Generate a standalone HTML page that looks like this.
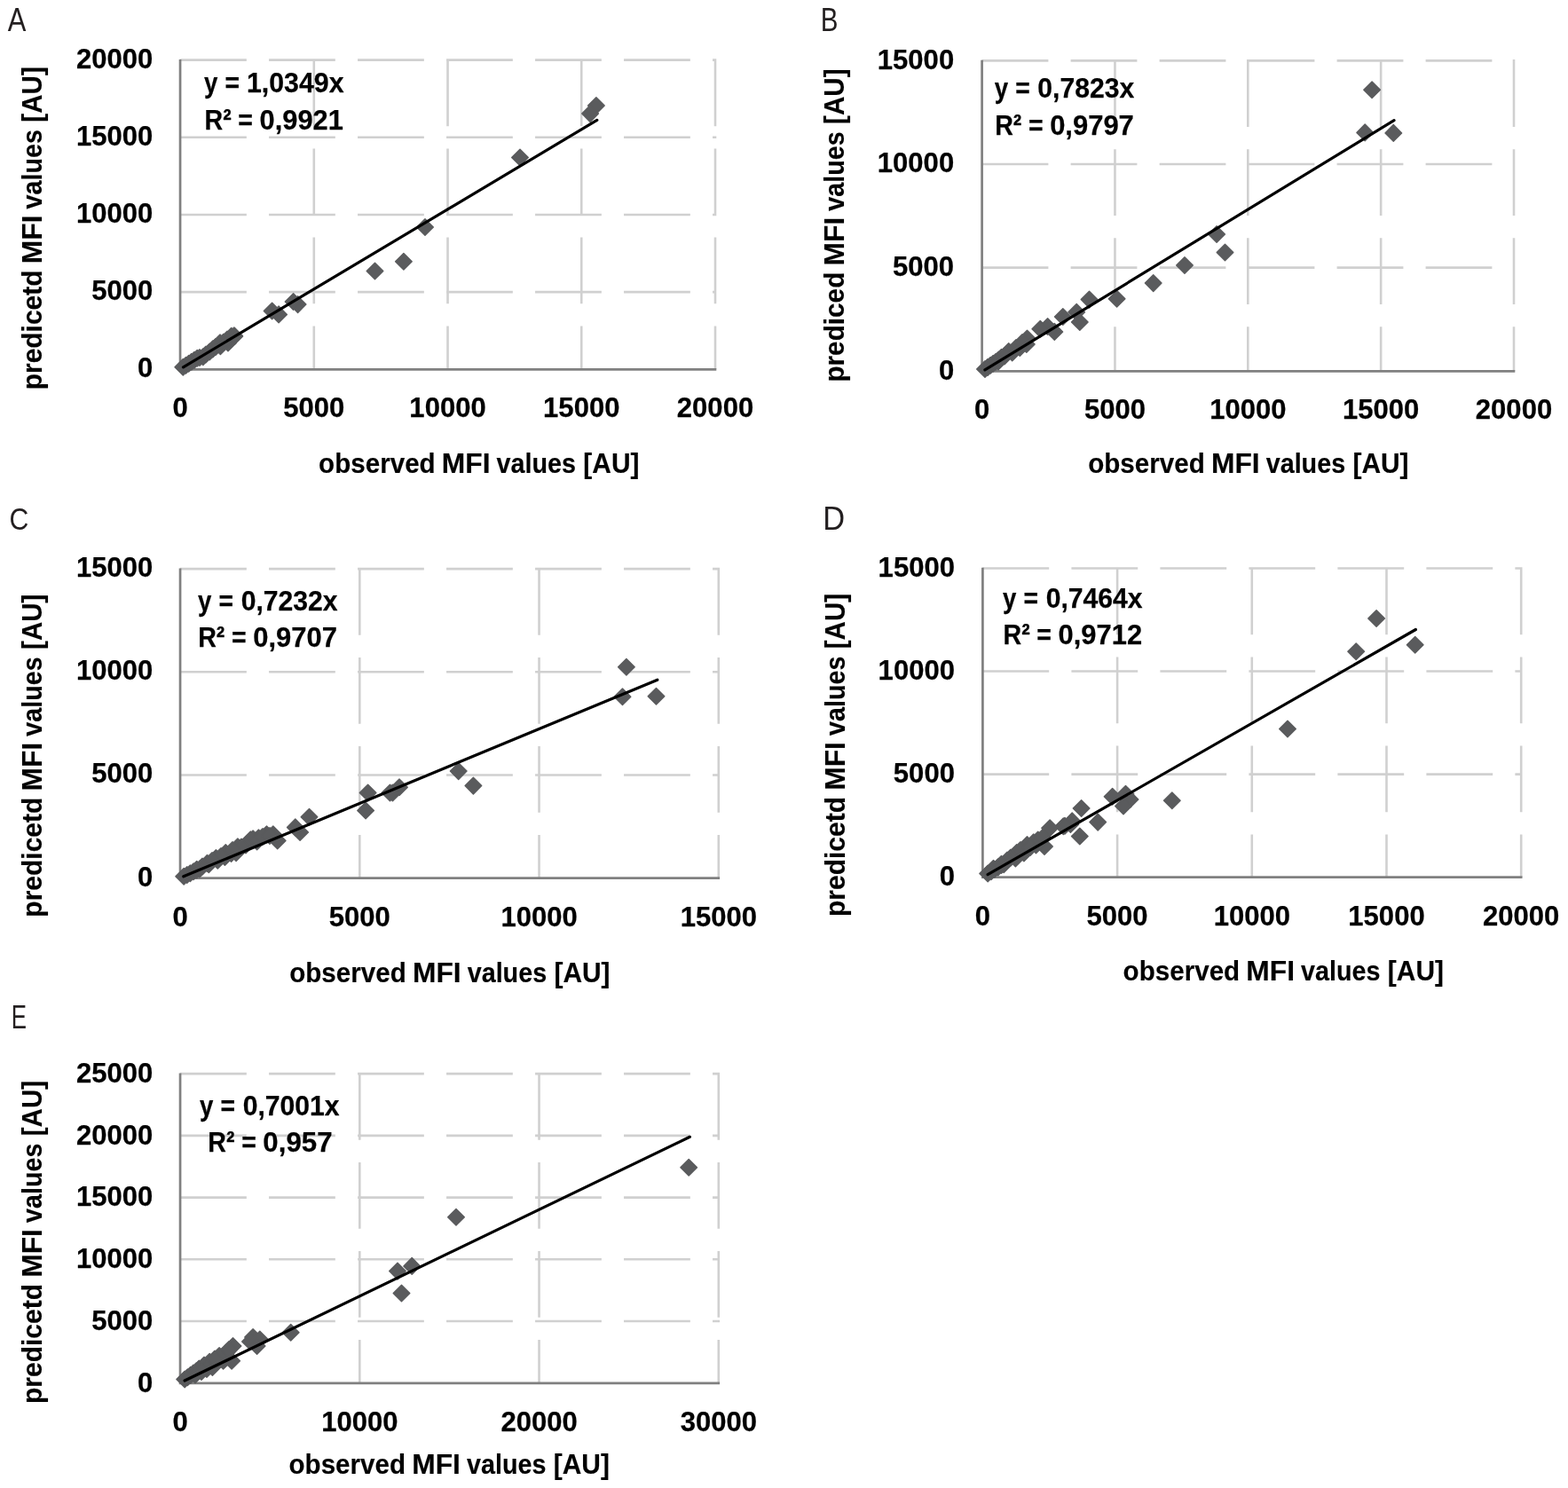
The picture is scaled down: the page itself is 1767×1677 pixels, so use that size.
<!DOCTYPE html>
<html lang="en"><head><meta charset="utf-8"><title>Observed vs predicted MFI values</title>
<style>html,body{margin:0;padding:0;background:#fff;overflow:hidden}svg{display:block}text{white-space:pre}</style></head>
<body>
<svg width="1767" height="1677" viewBox="0 0 1767 1677" font-family="'Liberation Sans', sans-serif">
<rect width="1767" height="1677" fill="#fff"/>
<g id="panel-A">
<path d="M203.05 329.12H277.85M303.05 329.12H377.85M403.05 329.12H477.85M503.05 329.12H577.85M603.05 329.12H677.85M703.05 329.12H777.85M803.05 329.12H807.30M203.05 241.95H277.85M303.05 241.95H377.85M403.05 241.95H477.85M503.05 241.95H577.85M603.05 241.95H677.85M703.05 241.95H777.85M803.05 241.95H807.30M203.05 154.77H277.85M303.05 154.77H377.85M403.05 154.77H477.85M503.05 154.77H577.85M603.05 154.77H677.85M703.05 154.77H777.85M803.05 154.77H807.30M203.05 67.60H277.85M303.05 67.60H377.85M403.05 67.60H477.85M503.05 67.60H577.85M603.05 67.60H677.85M703.05 67.60H777.85M803.05 67.60H807.30M353.79 66.30V142.30M353.79 167.50V242.30M353.79 267.50V342.30M353.79 367.50V416.30M504.53 66.30V142.30M504.53 167.50V242.30M504.53 267.50V342.30M504.53 367.50V416.30M655.26 66.30V142.30M655.26 167.50V242.30M655.26 267.50V342.30M655.26 367.50V416.30M806.00 66.30V142.30M806.00 167.50V242.30M806.00 267.50V342.30M806.00 367.50V416.30" stroke="#d0d0d0" stroke-width="2.6" fill="none"/>
<path d="M203.05 66.90V417.65M201.70 416.30H807.30" stroke="#808080" stroke-width="2.7" fill="none"/>
<g fill="#5a5b5d" stroke="#5a5b5d" stroke-width="1.4" stroke-linejoin="round">
<path d="M671.9 109.7L681.2 119.0L671.9 128.3L662.6 119.0Z"/>
<path d="M665.1 118.8L674.4 128.1L665.1 137.4L655.8 128.1Z"/>
<path d="M586.0 168.2L595.3 177.5L586.0 186.8L576.7 177.5Z"/>
<path d="M479.0 246.7L488.3 256.0L479.0 265.3L469.7 256.0Z"/>
<path d="M454.9 285.5L464.2 294.8L454.9 304.1L445.6 294.8Z"/>
<path d="M422.5 296.2L431.8 305.5L422.5 314.8L413.2 305.5Z"/>
<path d="M335.6 333.8L344.9 343.1L335.6 352.4L326.3 343.1Z"/>
<path d="M330.6 330.7L339.9 340.0L330.6 349.3L321.3 340.0Z"/>
<path d="M314.1 345.1L323.4 354.4L314.1 363.7L304.8 354.4Z"/>
<path d="M306.6 341.2L315.9 350.5L306.6 359.8L297.3 350.5Z"/>
<path d="M206.3 404.4L215.6 413.7L206.3 423.0L197.0 413.7Z"/>
<path d="M209.5 402.4L218.8 411.7L209.5 421.0L200.2 411.7Z"/>
<path d="M212.7 400.4L222.0 409.7L212.7 419.0L203.4 409.7Z"/>
<path d="M215.8 398.5L225.1 407.8L215.8 417.1L206.5 407.8Z"/>
<path d="M219.0 396.5L228.3 405.8L219.0 415.1L209.7 405.8Z"/>
<path d="M222.2 394.5L231.5 403.8L222.2 413.1L212.9 403.8Z"/>
<path d="M225.0 393.7L234.3 403.0L225.0 412.3L215.7 403.0Z"/>
<path d="M228.8 392.9L238.1 402.2L228.8 411.5L219.5 402.2Z"/>
<path d="M232.0 390.2L241.3 399.5L232.0 408.8L222.7 399.5Z"/>
<path d="M236.2 387.2L245.5 396.5L236.2 405.8L226.9 396.5Z"/>
<path d="M239.8 384.1L249.1 393.4L239.8 402.7L230.5 393.4Z"/>
<path d="M243.0 381.7L252.3 391.0L243.0 400.3L233.7 391.0Z"/>
<path d="M248.0 376.9L257.3 386.2L248.0 395.5L238.7 386.2Z"/>
<path d="M248.4 380.9L257.7 390.2L248.4 399.5L239.1 390.2Z"/>
<path d="M252.0 376.2L261.3 385.5L252.0 394.8L242.7 385.5Z"/>
<path d="M257.0 377.2L266.3 386.5L257.0 395.8L247.7 386.5Z"/>
<path d="M256.0 373.2L265.3 382.5L256.0 391.8L246.7 382.5Z"/>
<path d="M260.7 369.6L270.0 378.9L260.7 388.2L251.4 378.9Z"/>
<path d="M264.3 369.6L273.6 378.9L264.3 388.2L255.0 378.9Z"/>
<path d="M263.8 369.0L273.1 378.3L263.8 387.6L254.5 378.3Z"/>
</g>
<path d="M206.50 413.80L672.80 135.40" stroke="#000" stroke-width="3.2" stroke-linecap="round" fill="none"/>
<text y="425.20" font-size="32.10" font-weight="700" fill="#000" stroke="#000" stroke-width="0.25" stroke-linejoin="round"><tspan x="155.01" textLength="17.27" lengthAdjust="spacingAndGlyphs">0</tspan></text>
<text y="338.02" font-size="32.10" font-weight="700" fill="#000" stroke="#000" stroke-width="0.25" stroke-linejoin="round"><tspan x="103.16" textLength="69.07" lengthAdjust="spacingAndGlyphs">5000</tspan></text>
<text y="250.85" font-size="32.10" font-weight="700" fill="#000" stroke="#000" stroke-width="0.25" stroke-linejoin="round"><tspan x="85.92" textLength="86.34" lengthAdjust="spacingAndGlyphs">10000</tspan></text>
<text y="163.67" font-size="32.10" font-weight="700" fill="#000" stroke="#000" stroke-width="0.25" stroke-linejoin="round"><tspan x="85.92" textLength="86.34" lengthAdjust="spacingAndGlyphs">15000</tspan></text>
<text y="76.50" font-size="32.10" font-weight="700" fill="#000" stroke="#000" stroke-width="0.25" stroke-linejoin="round"><tspan x="85.92" textLength="86.34" lengthAdjust="spacingAndGlyphs">20000</tspan></text>
<text y="469.70" font-size="32.10" font-weight="700" fill="#000" stroke="#000" stroke-width="0.25" stroke-linejoin="round"><tspan x="194.42" textLength="17.27" lengthAdjust="spacingAndGlyphs">0</tspan></text>
<text y="469.70" font-size="32.10" font-weight="700" fill="#000" stroke="#000" stroke-width="0.25" stroke-linejoin="round"><tspan x="319.26" textLength="69.07" lengthAdjust="spacingAndGlyphs">5000</tspan></text>
<text y="469.70" font-size="32.10" font-weight="700" fill="#000" stroke="#000" stroke-width="0.25" stroke-linejoin="round"><tspan x="461.37" textLength="86.34" lengthAdjust="spacingAndGlyphs">10000</tspan></text>
<text y="469.70" font-size="32.10" font-weight="700" fill="#000" stroke="#000" stroke-width="0.25" stroke-linejoin="round"><tspan x="612.10" textLength="86.34" lengthAdjust="spacingAndGlyphs">15000</tspan></text>
<text y="469.70" font-size="32.10" font-weight="700" fill="#000" stroke="#000" stroke-width="0.25" stroke-linejoin="round"><tspan x="762.84" textLength="86.34" lengthAdjust="spacingAndGlyphs">20000</tspan></text>
<text y="533.00" font-size="31.00" font-weight="700" fill="#000" stroke="#000" stroke-width="0.15" stroke-linejoin="round"><tspan x="359.12" textLength="131.55" lengthAdjust="spacingAndGlyphs">observed</tspan> <tspan x="497.84" textLength="54.68" lengthAdjust="spacingAndGlyphs">MFI</tspan> <tspan x="559.56" textLength="89.49" lengthAdjust="spacingAndGlyphs">values</tspan> <tspan x="657.36" textLength="63.10" lengthAdjust="spacingAndGlyphs">[AU]</tspan></text>
<text transform="translate(47.30 437.40) rotate(-90)" font-size="31.00" font-weight="700" fill="#000" stroke="#000" stroke-width="0.15" stroke-linejoin="round"><tspan x="-1.95" textLength="134.93" lengthAdjust="spacingAndGlyphs">predicetd</tspan> <tspan x="140.24" textLength="54.68" lengthAdjust="spacingAndGlyphs">MFI</tspan> <tspan x="201.96" textLength="89.49" lengthAdjust="spacingAndGlyphs">values</tspan> <tspan x="299.77" textLength="62.36" lengthAdjust="spacingAndGlyphs">[AU]</tspan></text>
<text y="104.20" font-size="32.10" font-weight="700" fill="#000" stroke="#000" stroke-width="0.25" stroke-linejoin="round"><tspan x="230.12" textLength="15.35" lengthAdjust="spacingAndGlyphs">y</tspan> <tspan x="253.57" textLength="16.54" lengthAdjust="spacingAndGlyphs">=</tspan> <tspan x="277.93" textLength="109.67" lengthAdjust="spacingAndGlyphs">1,0349x</tspan></text>
<text y="146.40" font-size="32.10" font-weight="700" fill="#000" stroke="#000" stroke-width="0.25" stroke-linejoin="round"><tspan x="230.54" textLength="30.13" lengthAdjust="spacingAndGlyphs">R²</tspan> <tspan x="268.36" textLength="16.65" lengthAdjust="spacingAndGlyphs">=</tspan> <tspan x="292.57" textLength="94.21" lengthAdjust="spacingAndGlyphs">0,9921</tspan></text>
<text y="34.80" font-size="36.20" font-weight="400" fill="#231f20"><tspan x="8.85" textLength="20.62" lengthAdjust="spacingAndGlyphs">A</tspan></text>
</g>
<g id="panel-B">
<path d="M1106.60 301.67H1181.40M1206.60 301.67H1281.40M1306.60 301.67H1381.40M1406.60 301.67H1481.40M1506.60 301.67H1581.40M1606.60 301.67H1681.40M1706.60 301.67H1707.30M1106.60 185.03H1181.40M1206.60 185.03H1281.40M1306.60 185.03H1381.40M1406.60 185.03H1481.40M1506.60 185.03H1581.40M1606.60 185.03H1681.40M1706.60 185.03H1707.30M1106.60 68.40H1181.40M1206.60 68.40H1281.40M1306.60 68.40H1381.40M1406.60 68.40H1481.40M1506.60 68.40H1581.40M1606.60 68.40H1681.40M1706.60 68.40H1707.30M1256.45 67.10V143.10M1256.45 168.30V243.10M1256.45 268.30V343.10M1256.45 368.30V418.30M1406.30 67.10V143.10M1406.30 168.30V243.10M1406.30 268.30V343.10M1406.30 368.30V418.30M1556.15 67.10V143.10M1556.15 168.30V243.10M1556.15 268.30V343.10M1556.15 368.30V418.30M1706.00 67.10V143.10M1706.00 168.30V243.10M1706.00 268.30V343.10M1706.00 368.30V418.30" stroke="#d0d0d0" stroke-width="2.6" fill="none"/>
<path d="M1106.60 67.70V419.65M1105.25 418.30H1707.30" stroke="#808080" stroke-width="2.7" fill="none"/>
<g fill="#5a5b5d" stroke="#5a5b5d" stroke-width="1.4" stroke-linejoin="round">
<path d="M1546.1 92.0L1555.4 101.3L1546.1 110.6L1536.8 101.3Z"/>
<path d="M1538.2 140.1L1547.5 149.4L1538.2 158.7L1528.9 149.4Z"/>
<path d="M1570.3 140.6L1579.6 149.9L1570.3 159.2L1561.0 149.9Z"/>
<path d="M1371.1 254.7L1380.4 264.0L1371.1 273.3L1361.8 264.0Z"/>
<path d="M1380.5 275.2L1389.8 284.5L1380.5 293.8L1371.2 284.5Z"/>
<path d="M1335.0 289.7L1344.3 299.0L1335.0 308.3L1325.7 299.0Z"/>
<path d="M1299.7 309.8L1309.0 319.1L1299.7 328.4L1290.4 319.1Z"/>
<path d="M1258.6 327.5L1267.9 336.8L1258.6 346.1L1249.3 336.8Z"/>
<path d="M1227.5 328.3L1236.8 337.6L1227.5 346.9L1218.2 337.6Z"/>
<path d="M1213.2 342.4L1222.5 351.7L1213.2 361.0L1203.9 351.7Z"/>
<path d="M1216.8 353.7L1226.1 363.0L1216.8 372.3L1207.5 363.0Z"/>
<path d="M1197.8 347.7L1207.1 357.0L1197.8 366.3L1188.5 357.0Z"/>
<path d="M1180.6 358.7L1189.9 368.0L1180.6 377.3L1171.3 368.0Z"/>
<path d="M1188.3 364.6L1197.6 373.9L1188.3 383.2L1179.0 373.9Z"/>
<path d="M1172.3 361.4L1181.6 370.7L1172.3 380.0L1163.0 370.7Z"/>
<path d="M1157.5 372.3L1166.8 381.6L1157.5 390.9L1148.2 381.6Z"/>
<path d="M1156.8 378.6L1166.1 387.9L1156.8 397.2L1147.5 387.9Z"/>
<path d="M1149.3 382.7L1158.6 392.0L1149.3 401.3L1140.0 392.0Z"/>
<path d="M1140.7 388.1L1150.0 397.4L1140.7 406.7L1131.4 397.4Z"/>
<path d="M1136.7 386.8L1146.0 396.1L1136.7 405.4L1127.4 396.1Z"/>
<path d="M1128.5 393.6L1137.8 402.9L1128.5 412.2L1119.2 402.9Z"/>
<path d="M1145.0 382.7L1154.3 392.0L1145.0 401.3L1135.7 392.0Z"/>
<path d="M1152.0 376.7L1161.3 386.0L1152.0 395.3L1142.7 386.0Z"/>
<path d="M1110.0 406.7L1119.3 416.0L1110.0 425.3L1100.7 416.0Z"/>
<path d="M1113.1 404.6L1122.4 413.9L1113.1 423.2L1103.8 413.9Z"/>
<path d="M1116.2 402.5L1125.5 411.8L1116.2 421.1L1106.9 411.8Z"/>
<path d="M1119.2 400.4L1128.5 409.8L1119.2 419.1L1110.0 409.8Z"/>
<path d="M1122.3 398.4L1131.6 407.7L1122.3 417.0L1113.0 407.7Z"/>
<path d="M1125.4 396.3L1134.7 405.6L1125.4 414.9L1116.1 405.6Z"/>
<path d="M1128.5 394.2L1137.8 403.5L1128.5 412.8L1119.2 403.5Z"/>
<path d="M1132.0 392.2L1141.3 401.5L1132.0 410.8L1122.7 401.5Z"/>
<path d="M1125.0 398.2L1134.3 407.5L1125.0 416.8L1115.7 407.5Z"/>
</g>
<path d="M1109.90 416.90L1571.00 135.60" stroke="#000" stroke-width="3.2" stroke-linecap="round" fill="none"/>
<text y="427.70" font-size="32.10" font-weight="700" fill="#000" stroke="#000" stroke-width="0.25" stroke-linejoin="round"><tspan x="1057.91" textLength="17.27" lengthAdjust="spacingAndGlyphs">0</tspan></text>
<text y="311.07" font-size="32.10" font-weight="700" fill="#000" stroke="#000" stroke-width="0.25" stroke-linejoin="round"><tspan x="1006.06" textLength="69.07" lengthAdjust="spacingAndGlyphs">5000</tspan></text>
<text y="194.43" font-size="32.10" font-weight="700" fill="#000" stroke="#000" stroke-width="0.25" stroke-linejoin="round"><tspan x="988.82" textLength="86.34" lengthAdjust="spacingAndGlyphs">10000</tspan></text>
<text y="77.80" font-size="32.10" font-weight="700" fill="#000" stroke="#000" stroke-width="0.25" stroke-linejoin="round"><tspan x="988.82" textLength="86.34" lengthAdjust="spacingAndGlyphs">15000</tspan></text>
<text y="471.80" font-size="32.10" font-weight="700" fill="#000" stroke="#000" stroke-width="0.25" stroke-linejoin="round"><tspan x="1097.97" textLength="17.27" lengthAdjust="spacingAndGlyphs">0</tspan></text>
<text y="471.80" font-size="32.10" font-weight="700" fill="#000" stroke="#000" stroke-width="0.25" stroke-linejoin="round"><tspan x="1221.92" textLength="69.07" lengthAdjust="spacingAndGlyphs">5000</tspan></text>
<text y="471.80" font-size="32.10" font-weight="700" fill="#000" stroke="#000" stroke-width="0.25" stroke-linejoin="round"><tspan x="1363.14" textLength="86.34" lengthAdjust="spacingAndGlyphs">10000</tspan></text>
<text y="471.80" font-size="32.10" font-weight="700" fill="#000" stroke="#000" stroke-width="0.25" stroke-linejoin="round"><tspan x="1512.99" textLength="86.34" lengthAdjust="spacingAndGlyphs">15000</tspan></text>
<text y="471.80" font-size="32.10" font-weight="700" fill="#000" stroke="#000" stroke-width="0.25" stroke-linejoin="round"><tspan x="1662.84" textLength="86.34" lengthAdjust="spacingAndGlyphs">20000</tspan></text>
<text y="533.20" font-size="31.00" font-weight="700" fill="#000" stroke="#000" stroke-width="0.15" stroke-linejoin="round"><tspan x="1226.22" textLength="131.55" lengthAdjust="spacingAndGlyphs">observed</tspan> <tspan x="1364.94" textLength="54.68" lengthAdjust="spacingAndGlyphs">MFI</tspan> <tspan x="1426.66" textLength="89.49" lengthAdjust="spacingAndGlyphs">values</tspan> <tspan x="1524.46" textLength="63.10" lengthAdjust="spacingAndGlyphs">[AU]</tspan></text>
<text transform="translate(951.00 428.70) rotate(-90)" font-size="31.00" font-weight="700" fill="#000" stroke="#000" stroke-width="0.15" stroke-linejoin="round"><tspan x="-1.93" textLength="123.95" lengthAdjust="spacingAndGlyphs">prediced</tspan> <tspan x="129.24" textLength="54.68" lengthAdjust="spacingAndGlyphs">MFI</tspan> <tspan x="190.96" textLength="89.49" lengthAdjust="spacingAndGlyphs">values</tspan> <tspan x="288.77" textLength="62.57" lengthAdjust="spacingAndGlyphs">[AU]</tspan></text>
<text y="110.40" font-size="32.10" font-weight="700" fill="#000" stroke="#000" stroke-width="0.25" stroke-linejoin="round"><tspan x="1120.72" textLength="15.35" lengthAdjust="spacingAndGlyphs">y</tspan> <tspan x="1144.17" textLength="16.54" lengthAdjust="spacingAndGlyphs">=</tspan> <tspan x="1169.29" textLength="108.90" lengthAdjust="spacingAndGlyphs">0,7823x</tspan></text>
<text y="152.10" font-size="32.10" font-weight="700" fill="#000" stroke="#000" stroke-width="0.25" stroke-linejoin="round"><tspan x="1121.14" textLength="30.13" lengthAdjust="spacingAndGlyphs">R²</tspan> <tspan x="1158.96" textLength="16.65" lengthAdjust="spacingAndGlyphs">=</tspan> <tspan x="1183.16" textLength="94.69" lengthAdjust="spacingAndGlyphs">0,9797</tspan></text>
<text y="35.00" font-size="36.23" font-weight="400" fill="#231f20"><tspan x="924.64" textLength="19.70" lengthAdjust="spacingAndGlyphs">B</tspan></text>
</g>
<g id="panel-C">
<path d="M203.05 873.43H277.85M303.05 873.43H377.85M403.05 873.43H477.85M503.05 873.43H577.85M603.05 873.43H677.85M703.05 873.43H777.85M803.05 873.43H811.10M203.05 757.27H277.85M303.05 757.27H377.85M403.05 757.27H477.85M503.05 757.27H577.85M603.05 757.27H677.85M703.05 757.27H777.85M803.05 757.27H811.10M203.05 641.10H277.85M303.05 641.10H377.85M403.05 641.10H477.85M503.05 641.10H577.85M603.05 641.10H677.85M703.05 641.10H777.85M803.05 641.10H811.10M405.30 639.80V715.80M405.30 741.00V815.80M405.30 841.00V915.80M405.30 941.00V989.60M607.55 639.80V715.80M607.55 741.00V815.80M607.55 841.00V915.80M607.55 941.00V989.60M809.80 639.80V715.80M809.80 741.00V815.80M809.80 841.00V915.80M809.80 941.00V989.60" stroke="#d0d0d0" stroke-width="2.6" fill="none"/>
<path d="M203.05 640.40V990.95M201.70 989.60H811.10" stroke="#808080" stroke-width="2.7" fill="none"/>
<g fill="#5a5b5d" stroke="#5a5b5d" stroke-width="1.4" stroke-linejoin="round">
<path d="M705.9 742.4L715.2 751.7L705.9 761.0L696.6 751.7Z"/>
<path d="M701.5 776.0L710.8 785.3L701.5 794.6L692.2 785.3Z"/>
<path d="M739.5 775.5L748.8 784.8L739.5 794.1L730.2 784.8Z"/>
<path d="M516.7 859.8L526.0 869.1L516.7 878.4L507.4 869.1Z"/>
<path d="M533.4 876.3L542.7 885.6L533.4 894.9L524.1 885.6Z"/>
<path d="M450.0 878.0L459.3 887.3L450.0 896.6L440.7 887.3Z"/>
<path d="M442.5 884.2L451.8 893.5L442.5 902.8L433.2 893.5Z"/>
<path d="M439.5 884.2L448.8 893.5L439.5 902.8L430.2 893.5Z"/>
<path d="M414.6 884.2L423.9 893.5L414.6 902.8L405.3 893.5Z"/>
<path d="M412.1 904.2L421.4 913.5L412.1 922.8L402.8 913.5Z"/>
<path d="M348.5 911.5L357.8 920.8L348.5 930.1L339.2 920.8Z"/>
<path d="M338.1 928.7L347.4 938.0L338.1 947.3L328.8 938.0Z"/>
<path d="M332.8 923.1L342.1 932.4L332.8 941.7L323.5 932.4Z"/>
<path d="M312.7 938.2L322.0 947.5L312.7 956.8L303.4 947.5Z"/>
<path d="M307.8 931.0L317.1 940.3L307.8 949.6L298.5 940.3Z"/>
<path d="M300.5 931.0L309.8 940.3L300.5 949.6L291.2 940.3Z"/>
<path d="M291.4 935.1L300.7 944.4L291.4 953.7L282.1 944.4Z"/>
<path d="M285.1 936.0L294.4 945.3L285.1 954.6L275.8 945.3Z"/>
<path d="M282.4 936.9L291.7 946.2L282.4 955.5L273.1 946.2Z"/>
<path d="M289.6 939.1L298.9 948.4L289.6 957.7L280.3 948.4Z"/>
<path d="M277.0 943.2L286.3 952.5L277.0 961.8L267.7 952.5Z"/>
<path d="M296.0 933.7L305.3 943.0L296.0 952.3L286.7 943.0Z"/>
<path d="M304.0 932.7L313.3 942.0L304.0 951.3L294.7 942.0Z"/>
<path d="M267.9 945.0L277.2 954.3L267.9 963.6L258.6 954.3Z"/>
<path d="M266.1 951.8L275.4 961.1L266.1 970.4L256.8 961.1Z"/>
<path d="M260.6 952.7L269.9 962.0L260.6 971.3L251.3 962.0Z"/>
<path d="M254.3 951.8L263.6 961.1L254.3 970.4L245.0 961.1Z"/>
<path d="M253.4 956.7L262.7 966.0L253.4 975.3L244.1 966.0Z"/>
<path d="M245.3 960.4L254.6 969.7L245.3 979.0L236.0 969.7Z"/>
<path d="M243.4 957.7L252.7 967.0L243.4 976.3L234.1 967.0Z"/>
<path d="M235.3 964.9L244.6 974.2L235.3 983.5L226.0 974.2Z"/>
<path d="M233.5 963.6L242.8 972.9L233.5 982.2L224.2 972.9Z"/>
<path d="M221.7 970.4L231.0 979.7L221.7 989.0L212.4 979.7Z"/>
<path d="M272.0 945.2L281.3 954.5L272.0 963.8L262.7 954.5Z"/>
<path d="M262.0 948.7L271.3 958.0L262.0 967.3L252.7 958.0Z"/>
<path d="M249.0 955.7L258.3 965.0L249.0 974.3L239.7 965.0Z"/>
<path d="M239.0 960.7L248.3 970.0L239.0 979.3L229.7 970.0Z"/>
<path d="M228.0 967.2L237.3 976.5L228.0 985.8L218.7 976.5Z"/>
<path d="M225.0 970.2L234.3 979.5L225.0 988.8L215.7 979.5Z"/>
<path d="M207.2 978.5L216.5 987.8L207.2 997.1L197.9 987.8Z"/>
<path d="M210.8 976.7L220.1 986.0L210.8 995.3L201.5 986.0Z"/>
<path d="M214.4 974.9L223.8 984.1L214.4 993.4L205.1 984.1Z"/>
<path d="M218.1 973.0L227.4 982.3L218.1 991.6L208.8 982.3Z"/>
<path d="M221.7 971.2L231.0 980.5L221.7 989.8L212.4 980.5Z"/>
</g>
<path d="M206.80 987.80L740.80 766.20" stroke="#000" stroke-width="3.2" stroke-linecap="round" fill="none"/>
<text y="998.60" font-size="32.10" font-weight="700" fill="#000" stroke="#000" stroke-width="0.25" stroke-linejoin="round"><tspan x="155.01" textLength="17.27" lengthAdjust="spacingAndGlyphs">0</tspan></text>
<text y="882.43" font-size="32.10" font-weight="700" fill="#000" stroke="#000" stroke-width="0.25" stroke-linejoin="round"><tspan x="103.16" textLength="69.07" lengthAdjust="spacingAndGlyphs">5000</tspan></text>
<text y="766.27" font-size="32.10" font-weight="700" fill="#000" stroke="#000" stroke-width="0.25" stroke-linejoin="round"><tspan x="85.92" textLength="86.34" lengthAdjust="spacingAndGlyphs">10000</tspan></text>
<text y="650.10" font-size="32.10" font-weight="700" fill="#000" stroke="#000" stroke-width="0.25" stroke-linejoin="round"><tspan x="85.92" textLength="86.34" lengthAdjust="spacingAndGlyphs">15000</tspan></text>
<text y="1043.60" font-size="32.10" font-weight="700" fill="#000" stroke="#000" stroke-width="0.25" stroke-linejoin="round"><tspan x="194.42" textLength="17.27" lengthAdjust="spacingAndGlyphs">0</tspan></text>
<text y="1043.60" font-size="32.10" font-weight="700" fill="#000" stroke="#000" stroke-width="0.25" stroke-linejoin="round"><tspan x="370.77" textLength="69.07" lengthAdjust="spacingAndGlyphs">5000</tspan></text>
<text y="1043.60" font-size="32.10" font-weight="700" fill="#000" stroke="#000" stroke-width="0.25" stroke-linejoin="round"><tspan x="564.39" textLength="86.34" lengthAdjust="spacingAndGlyphs">10000</tspan></text>
<text y="1043.60" font-size="32.10" font-weight="700" fill="#000" stroke="#000" stroke-width="0.25" stroke-linejoin="round"><tspan x="766.64" textLength="86.34" lengthAdjust="spacingAndGlyphs">15000</tspan></text>
<text y="1106.90" font-size="31.00" font-weight="700" fill="#000" stroke="#000" stroke-width="0.15" stroke-linejoin="round"><tspan x="326.22" textLength="131.55" lengthAdjust="spacingAndGlyphs">observed</tspan> <tspan x="464.94" textLength="54.68" lengthAdjust="spacingAndGlyphs">MFI</tspan> <tspan x="526.66" textLength="89.49" lengthAdjust="spacingAndGlyphs">values</tspan> <tspan x="624.46" textLength="63.10" lengthAdjust="spacingAndGlyphs">[AU]</tspan></text>
<text transform="translate(47.30 1031.70) rotate(-90)" font-size="31.00" font-weight="700" fill="#000" stroke="#000" stroke-width="0.15" stroke-linejoin="round"><tspan x="-1.95" textLength="134.93" lengthAdjust="spacingAndGlyphs">predicetd</tspan> <tspan x="140.24" textLength="54.68" lengthAdjust="spacingAndGlyphs">MFI</tspan> <tspan x="201.96" textLength="89.49" lengthAdjust="spacingAndGlyphs">values</tspan> <tspan x="299.77" textLength="62.36" lengthAdjust="spacingAndGlyphs">[AU]</tspan></text>
<text y="687.90" font-size="32.10" font-weight="700" fill="#000" stroke="#000" stroke-width="0.25" stroke-linejoin="round"><tspan x="223.12" textLength="15.35" lengthAdjust="spacingAndGlyphs">y</tspan> <tspan x="246.57" textLength="16.54" lengthAdjust="spacingAndGlyphs">=</tspan> <tspan x="271.69" textLength="108.90" lengthAdjust="spacingAndGlyphs">0,7232x</tspan></text>
<text y="729.30" font-size="32.10" font-weight="700" fill="#000" stroke="#000" stroke-width="0.25" stroke-linejoin="round"><tspan x="223.24" textLength="30.13" lengthAdjust="spacingAndGlyphs">R²</tspan> <tspan x="261.06" textLength="16.65" lengthAdjust="spacingAndGlyphs">=</tspan> <tspan x="285.26" textLength="94.69" lengthAdjust="spacingAndGlyphs">0,9707</tspan></text>
<text y="596.64" font-size="35.63" font-weight="400" fill="#231f20"><tspan x="10.39" textLength="21.78" lengthAdjust="spacingAndGlyphs">C</tspan></text>
</g>
<g id="panel-D">
<path d="M1107.40 872.63H1182.20M1207.40 872.63H1282.20M1307.40 872.63H1382.20M1407.40 872.63H1482.20M1507.40 872.63H1582.20M1607.40 872.63H1682.20M1707.40 872.63H1715.50M1107.40 756.57H1182.20M1207.40 756.57H1282.20M1307.40 756.57H1382.20M1407.40 756.57H1482.20M1507.40 756.57H1582.20M1607.40 756.57H1682.20M1707.40 756.57H1715.50M1107.40 640.50H1182.20M1207.40 640.50H1282.20M1307.40 640.50H1382.20M1407.40 640.50H1482.20M1507.40 640.50H1582.20M1607.40 640.50H1682.20M1707.40 640.50H1715.50M1259.10 639.20V715.20M1259.10 740.40V815.20M1259.10 840.40V915.20M1259.10 940.40V988.70M1410.80 639.20V715.20M1410.80 740.40V815.20M1410.80 840.40V915.20M1410.80 940.40V988.70M1562.50 639.20V715.20M1562.50 740.40V815.20M1562.50 840.40V915.20M1562.50 940.40V988.70M1714.20 639.20V715.20M1714.20 740.40V815.20M1714.20 840.40V915.20M1714.20 940.40V988.70" stroke="#d0d0d0" stroke-width="2.6" fill="none"/>
<path d="M1107.40 639.80V990.05M1106.05 988.70H1715.50" stroke="#808080" stroke-width="2.7" fill="none"/>
<g fill="#5a5b5d" stroke="#5a5b5d" stroke-width="1.4" stroke-linejoin="round">
<path d="M1551.1 687.7L1560.4 697.0L1551.1 706.3L1541.8 697.0Z"/>
<path d="M1528.2 725.0L1537.5 734.3L1528.2 743.6L1518.9 734.3Z"/>
<path d="M1594.7 717.5L1604.0 726.8L1594.7 736.1L1585.4 726.8Z"/>
<path d="M1451.0 812.2L1460.3 821.5L1451.0 830.8L1441.7 821.5Z"/>
<path d="M1320.8 893.0L1330.1 902.3L1320.8 911.6L1311.5 902.3Z"/>
<path d="M1268.5 885.5L1277.8 894.8L1268.5 904.1L1259.2 894.8Z"/>
<path d="M1273.5 891.7L1282.8 901.0L1273.5 910.3L1264.2 901.0Z"/>
<path d="M1266.0 899.2L1275.3 908.5L1266.0 917.8L1256.7 908.5Z"/>
<path d="M1253.6 888.5L1262.9 897.8L1253.6 907.1L1244.3 897.8Z"/>
<path d="M1237.2 917.3L1246.5 926.6L1237.2 935.9L1227.9 926.6Z"/>
<path d="M1218.6 901.7L1227.9 911.0L1218.6 920.3L1209.3 911.0Z"/>
<path d="M1216.8 933.2L1226.1 942.5L1216.8 951.8L1207.5 942.5Z"/>
<path d="M1208.2 916.1L1217.5 925.4L1208.2 934.7L1198.9 925.4Z"/>
<path d="M1206.4 919.6L1215.7 928.9L1206.4 938.2L1197.1 928.9Z"/>
<path d="M1198.3 922.0L1207.6 931.3L1198.3 940.6L1189.0 931.3Z"/>
<path d="M1200.0 921.4L1209.3 930.7L1200.0 940.0L1190.7 930.7Z"/>
<path d="M1183.1 923.9L1192.4 933.2L1183.1 942.5L1173.8 933.2Z"/>
<path d="M1177.0 944.7L1186.3 954.0L1177.0 963.3L1167.7 954.0Z"/>
<path d="M1169.7 937.3L1179.0 946.6L1169.7 955.9L1160.4 946.6Z"/>
<path d="M1164.7 940.1L1174.0 949.4L1164.7 958.7L1155.4 949.4Z"/>
<path d="M1157.5 942.8L1166.8 952.1L1157.5 961.4L1148.2 952.1Z"/>
<path d="M1167.5 943.2L1176.8 952.5L1167.5 961.8L1158.2 952.5Z"/>
<path d="M1145.7 951.8L1155.0 961.1L1145.7 970.4L1136.4 961.1Z"/>
<path d="M1153.9 952.2L1163.2 961.5L1153.9 970.8L1144.6 961.5Z"/>
<path d="M1144.4 958.1L1153.7 967.4L1144.4 976.7L1135.1 967.4Z"/>
<path d="M1128.5 964.5L1137.8 973.8L1128.5 983.1L1119.2 973.8Z"/>
<path d="M1131.2 964.9L1140.5 974.2L1131.2 983.5L1121.9 974.2Z"/>
<path d="M1119.5 969.5L1128.8 978.8L1119.5 988.1L1110.2 978.8Z"/>
<path d="M1175.0 934.7L1184.3 944.0L1175.0 953.3L1165.7 944.0Z"/>
<path d="M1150.0 948.7L1159.3 958.0L1150.0 967.3L1140.7 958.0Z"/>
<path d="M1139.0 957.2L1148.3 966.5L1139.0 975.8L1129.7 966.5Z"/>
<path d="M1135.0 960.2L1144.3 969.5L1135.0 978.8L1125.7 969.5Z"/>
<path d="M1161.0 945.7L1170.3 955.0L1161.0 964.3L1151.7 955.0Z"/>
<path d="M1113.2 975.2L1122.5 984.5L1113.2 993.8L1103.9 984.5Z"/>
<path d="M1117.0 972.8L1126.3 982.1L1117.0 991.4L1107.7 982.1Z"/>
<path d="M1120.8 970.5L1130.1 979.8L1120.8 989.0L1111.5 979.8Z"/>
<path d="M1124.7 968.1L1134.0 977.4L1124.7 986.7L1115.4 977.4Z"/>
<path d="M1128.5 965.7L1137.8 975.0L1128.5 984.3L1119.2 975.0Z"/>
</g>
<path d="M1113.10 985.60L1595.40 709.50" stroke="#000" stroke-width="3.2" stroke-linecap="round" fill="none"/>
<text y="997.80" font-size="32.10" font-weight="700" fill="#000" stroke="#000" stroke-width="0.25" stroke-linejoin="round"><tspan x="1058.71" textLength="17.27" lengthAdjust="spacingAndGlyphs">0</tspan></text>
<text y="881.73" font-size="32.10" font-weight="700" fill="#000" stroke="#000" stroke-width="0.25" stroke-linejoin="round"><tspan x="1006.86" textLength="69.07" lengthAdjust="spacingAndGlyphs">5000</tspan></text>
<text y="765.67" font-size="32.10" font-weight="700" fill="#000" stroke="#000" stroke-width="0.25" stroke-linejoin="round"><tspan x="989.62" textLength="86.34" lengthAdjust="spacingAndGlyphs">10000</tspan></text>
<text y="649.60" font-size="32.10" font-weight="700" fill="#000" stroke="#000" stroke-width="0.25" stroke-linejoin="round"><tspan x="989.62" textLength="86.34" lengthAdjust="spacingAndGlyphs">15000</tspan></text>
<text y="1043.20" font-size="32.10" font-weight="700" fill="#000" stroke="#000" stroke-width="0.25" stroke-linejoin="round"><tspan x="1098.77" textLength="17.27" lengthAdjust="spacingAndGlyphs">0</tspan></text>
<text y="1043.20" font-size="32.10" font-weight="700" fill="#000" stroke="#000" stroke-width="0.25" stroke-linejoin="round"><tspan x="1224.57" textLength="69.07" lengthAdjust="spacingAndGlyphs">5000</tspan></text>
<text y="1043.20" font-size="32.10" font-weight="700" fill="#000" stroke="#000" stroke-width="0.25" stroke-linejoin="round"><tspan x="1367.64" textLength="86.34" lengthAdjust="spacingAndGlyphs">10000</tspan></text>
<text y="1043.20" font-size="32.10" font-weight="700" fill="#000" stroke="#000" stroke-width="0.25" stroke-linejoin="round"><tspan x="1519.34" textLength="86.34" lengthAdjust="spacingAndGlyphs">15000</tspan></text>
<text y="1043.20" font-size="32.10" font-weight="700" fill="#000" stroke="#000" stroke-width="0.25" stroke-linejoin="round"><tspan x="1671.04" textLength="86.34" lengthAdjust="spacingAndGlyphs">20000</tspan></text>
<text y="1105.20" font-size="31.00" font-weight="700" fill="#000" stroke="#000" stroke-width="0.15" stroke-linejoin="round"><tspan x="1265.62" textLength="131.55" lengthAdjust="spacingAndGlyphs">observed</tspan> <tspan x="1404.34" textLength="54.68" lengthAdjust="spacingAndGlyphs">MFI</tspan> <tspan x="1466.06" textLength="89.49" lengthAdjust="spacingAndGlyphs">values</tspan> <tspan x="1563.86" textLength="63.10" lengthAdjust="spacingAndGlyphs">[AU]</tspan></text>
<text transform="translate(951.70 1031.00) rotate(-90)" font-size="31.00" font-weight="700" fill="#000" stroke="#000" stroke-width="0.15" stroke-linejoin="round"><tspan x="-1.95" textLength="134.93" lengthAdjust="spacingAndGlyphs">predicetd</tspan> <tspan x="140.24" textLength="54.68" lengthAdjust="spacingAndGlyphs">MFI</tspan> <tspan x="201.96" textLength="89.49" lengthAdjust="spacingAndGlyphs">values</tspan> <tspan x="299.77" textLength="62.36" lengthAdjust="spacingAndGlyphs">[AU]</tspan></text>
<text y="684.50" font-size="32.10" font-weight="700" fill="#000" stroke="#000" stroke-width="0.25" stroke-linejoin="round"><tspan x="1130.12" textLength="15.35" lengthAdjust="spacingAndGlyphs">y</tspan> <tspan x="1153.57" textLength="16.54" lengthAdjust="spacingAndGlyphs">=</tspan> <tspan x="1178.69" textLength="108.90" lengthAdjust="spacingAndGlyphs">0,7464x</tspan></text>
<text y="725.80" font-size="32.10" font-weight="700" fill="#000" stroke="#000" stroke-width="0.25" stroke-linejoin="round"><tspan x="1130.54" textLength="30.13" lengthAdjust="spacingAndGlyphs">R²</tspan> <tspan x="1168.36" textLength="16.65" lengthAdjust="spacingAndGlyphs">=</tspan> <tspan x="1192.56" textLength="94.53" lengthAdjust="spacingAndGlyphs">0,9712</tspan></text>
<text y="597.00" font-size="36.38" font-weight="400" fill="#231f20"><tspan x="927.14" textLength="24.88" lengthAdjust="spacingAndGlyphs">D</tspan></text>
</g>
<g id="panel-E">
<path d="M203.05 1489.06H277.85M303.05 1489.06H377.85M403.05 1489.06H477.85M503.05 1489.06H577.85M603.05 1489.06H677.85M703.05 1489.06H777.85M803.05 1489.06H811.10M203.05 1419.32H277.85M303.05 1419.32H377.85M403.05 1419.32H477.85M503.05 1419.32H577.85M603.05 1419.32H677.85M703.05 1419.32H777.85M803.05 1419.32H811.10M203.05 1349.58H277.85M303.05 1349.58H377.85M403.05 1349.58H477.85M503.05 1349.58H577.85M603.05 1349.58H677.85M703.05 1349.58H777.85M803.05 1349.58H811.10M203.05 1279.84H277.85M303.05 1279.84H377.85M403.05 1279.84H477.85M503.05 1279.84H577.85M603.05 1279.84H677.85M703.05 1279.84H777.85M803.05 1279.84H811.10M203.05 1210.10H277.85M303.05 1210.10H377.85M403.05 1210.10H477.85M503.05 1210.10H577.85M603.05 1210.10H677.85M703.05 1210.10H777.85M803.05 1210.10H811.10M405.30 1208.80V1284.80M405.30 1310.00V1384.80M405.30 1410.00V1484.80M405.30 1510.00V1558.80M607.55 1208.80V1284.80M607.55 1310.00V1384.80M607.55 1410.00V1484.80M607.55 1510.00V1558.80M809.80 1208.80V1284.80M809.80 1310.00V1384.80M809.80 1410.00V1484.80M809.80 1510.00V1558.80" stroke="#d0d0d0" stroke-width="2.6" fill="none"/>
<path d="M203.05 1209.40V1560.15M201.70 1558.80H811.10" stroke="#808080" stroke-width="2.7" fill="none"/>
<g fill="#5a5b5d" stroke="#5a5b5d" stroke-width="1.4" stroke-linejoin="round">
<path d="M776.2 1306.4L785.5 1315.7L776.2 1325.0L766.9 1315.7Z"/>
<path d="M514.0 1362.4L523.3 1371.7L514.0 1381.0L504.7 1371.7Z"/>
<path d="M464.2 1417.6L473.5 1426.9L464.2 1436.2L454.9 1426.9Z"/>
<path d="M448.0 1423.3L457.3 1432.6L448.0 1441.9L438.7 1432.6Z"/>
<path d="M452.5 1448.2L461.8 1457.5L452.5 1466.8L443.2 1457.5Z"/>
<path d="M327.7 1492.4L337.0 1501.7L327.7 1511.0L318.4 1501.7Z"/>
<path d="M285.1 1497.8L294.4 1507.1L285.1 1516.4L275.8 1507.1Z"/>
<path d="M282.0 1502.7L291.3 1512.0L282.0 1521.3L272.7 1512.0Z"/>
<path d="M292.8 1500.3L302.1 1509.6L292.8 1518.9L283.5 1509.6Z"/>
<path d="M289.6 1507.7L298.9 1517.0L289.6 1526.3L280.3 1517.0Z"/>
<path d="M262.5 1507.8L271.8 1517.1L262.5 1526.4L253.2 1517.1Z"/>
<path d="M261.1 1524.5L270.4 1533.8L261.1 1543.1L251.8 1533.8Z"/>
<path d="M255.2 1515.0L264.5 1524.3L255.2 1533.6L245.9 1524.3Z"/>
<path d="M247.1 1518.7L256.4 1528.0L247.1 1537.3L237.8 1528.0Z"/>
<path d="M251.6 1524.5L260.9 1533.8L251.6 1543.1L242.3 1533.8Z"/>
<path d="M236.2 1525.5L245.5 1534.8L236.2 1544.1L226.9 1534.8Z"/>
<path d="M239.4 1531.7L248.7 1541.0L239.4 1550.3L230.1 1541.0Z"/>
<path d="M224.4 1533.2L233.7 1542.5L224.4 1551.8L215.1 1542.5Z"/>
<path d="M242.0 1522.2L251.3 1531.5L242.0 1540.8L232.7 1531.5Z"/>
<path d="M230.0 1529.2L239.3 1538.5L230.0 1547.8L220.7 1538.5Z"/>
<path d="M233.0 1533.7L242.3 1543.0L233.0 1552.3L223.7 1543.0Z"/>
<path d="M258.0 1511.7L267.3 1521.0L258.0 1530.3L248.7 1521.0Z"/>
<path d="M208.2 1545.2L217.5 1554.5L208.2 1563.8L198.9 1554.5Z"/>
<path d="M211.4 1542.9L220.7 1552.2L211.4 1561.5L202.1 1552.2Z"/>
<path d="M214.7 1540.6L224.0 1549.9L214.7 1559.2L205.4 1549.9Z"/>
<path d="M217.9 1538.3L227.2 1547.6L217.9 1556.9L208.6 1547.6Z"/>
<path d="M221.2 1536.0L230.5 1545.3L221.2 1554.6L211.9 1545.3Z"/>
<path d="M224.4 1533.7L233.7 1543.0L224.4 1552.3L215.1 1543.0Z"/>
<path d="M227.0 1536.7L236.3 1546.0L227.0 1555.3L217.7 1546.0Z"/>
<path d="M220.0 1540.2L229.3 1549.5L220.0 1558.8L210.7 1549.5Z"/>
</g>
<path d="M208.10 1556.00L777.40 1281.30" stroke="#000" stroke-width="3.2" stroke-linecap="round" fill="none"/>
<text y="1568.60" font-size="32.10" font-weight="700" fill="#000" stroke="#000" stroke-width="0.25" stroke-linejoin="round"><tspan x="155.01" textLength="17.27" lengthAdjust="spacingAndGlyphs">0</tspan></text>
<text y="1498.86" font-size="32.10" font-weight="700" fill="#000" stroke="#000" stroke-width="0.25" stroke-linejoin="round"><tspan x="103.16" textLength="69.07" lengthAdjust="spacingAndGlyphs">5000</tspan></text>
<text y="1429.12" font-size="32.10" font-weight="700" fill="#000" stroke="#000" stroke-width="0.25" stroke-linejoin="round"><tspan x="85.92" textLength="86.34" lengthAdjust="spacingAndGlyphs">10000</tspan></text>
<text y="1359.38" font-size="32.10" font-weight="700" fill="#000" stroke="#000" stroke-width="0.25" stroke-linejoin="round"><tspan x="85.92" textLength="86.34" lengthAdjust="spacingAndGlyphs">15000</tspan></text>
<text y="1289.64" font-size="32.10" font-weight="700" fill="#000" stroke="#000" stroke-width="0.25" stroke-linejoin="round"><tspan x="85.92" textLength="86.34" lengthAdjust="spacingAndGlyphs">20000</tspan></text>
<text y="1219.90" font-size="32.10" font-weight="700" fill="#000" stroke="#000" stroke-width="0.25" stroke-linejoin="round"><tspan x="85.92" textLength="86.34" lengthAdjust="spacingAndGlyphs">25000</tspan></text>
<text y="1613.00" font-size="32.10" font-weight="700" fill="#000" stroke="#000" stroke-width="0.25" stroke-linejoin="round"><tspan x="194.42" textLength="17.27" lengthAdjust="spacingAndGlyphs">0</tspan></text>
<text y="1613.00" font-size="32.10" font-weight="700" fill="#000" stroke="#000" stroke-width="0.25" stroke-linejoin="round"><tspan x="362.14" textLength="86.34" lengthAdjust="spacingAndGlyphs">10000</tspan></text>
<text y="1613.00" font-size="32.10" font-weight="700" fill="#000" stroke="#000" stroke-width="0.25" stroke-linejoin="round"><tspan x="564.39" textLength="86.34" lengthAdjust="spacingAndGlyphs">20000</tspan></text>
<text y="1613.00" font-size="32.10" font-weight="700" fill="#000" stroke="#000" stroke-width="0.25" stroke-linejoin="round"><tspan x="766.64" textLength="86.34" lengthAdjust="spacingAndGlyphs">30000</tspan></text>
<text y="1660.90" font-size="31.00" font-weight="700" fill="#000" stroke="#000" stroke-width="0.15" stroke-linejoin="round"><tspan x="325.52" textLength="131.55" lengthAdjust="spacingAndGlyphs">observed</tspan> <tspan x="464.24" textLength="54.68" lengthAdjust="spacingAndGlyphs">MFI</tspan> <tspan x="525.96" textLength="89.49" lengthAdjust="spacingAndGlyphs">values</tspan> <tspan x="623.76" textLength="63.10" lengthAdjust="spacingAndGlyphs">[AU]</tspan></text>
<text transform="translate(47.30 1580.00) rotate(-90)" font-size="31.00" font-weight="700" fill="#000" stroke="#000" stroke-width="0.15" stroke-linejoin="round"><tspan x="-1.95" textLength="134.93" lengthAdjust="spacingAndGlyphs">predicetd</tspan> <tspan x="140.24" textLength="54.68" lengthAdjust="spacingAndGlyphs">MFI</tspan> <tspan x="201.96" textLength="89.49" lengthAdjust="spacingAndGlyphs">values</tspan> <tspan x="299.77" textLength="62.36" lengthAdjust="spacingAndGlyphs">[AU]</tspan></text>
<text y="1256.80" font-size="32.10" font-weight="700" fill="#000" stroke="#000" stroke-width="0.25" stroke-linejoin="round"><tspan x="225.12" textLength="15.35" lengthAdjust="spacingAndGlyphs">y</tspan> <tspan x="248.57" textLength="16.54" lengthAdjust="spacingAndGlyphs">=</tspan> <tspan x="273.69" textLength="108.90" lengthAdjust="spacingAndGlyphs">0,7001x</tspan></text>
<text y="1298.20" font-size="32.10" font-weight="700" fill="#000" stroke="#000" stroke-width="0.25" stroke-linejoin="round"><tspan x="234.34" textLength="30.13" lengthAdjust="spacingAndGlyphs">R²</tspan> <tspan x="272.16" textLength="16.65" lengthAdjust="spacingAndGlyphs">=</tspan> <tspan x="296.35" textLength="78.18" lengthAdjust="spacingAndGlyphs">0,957</tspan></text>
<text y="1159.00" font-size="36.38" font-weight="400" fill="#231f20"><tspan x="12.83" textLength="17.26" lengthAdjust="spacingAndGlyphs">E</tspan></text>
</g>
</svg>
</body></html>
